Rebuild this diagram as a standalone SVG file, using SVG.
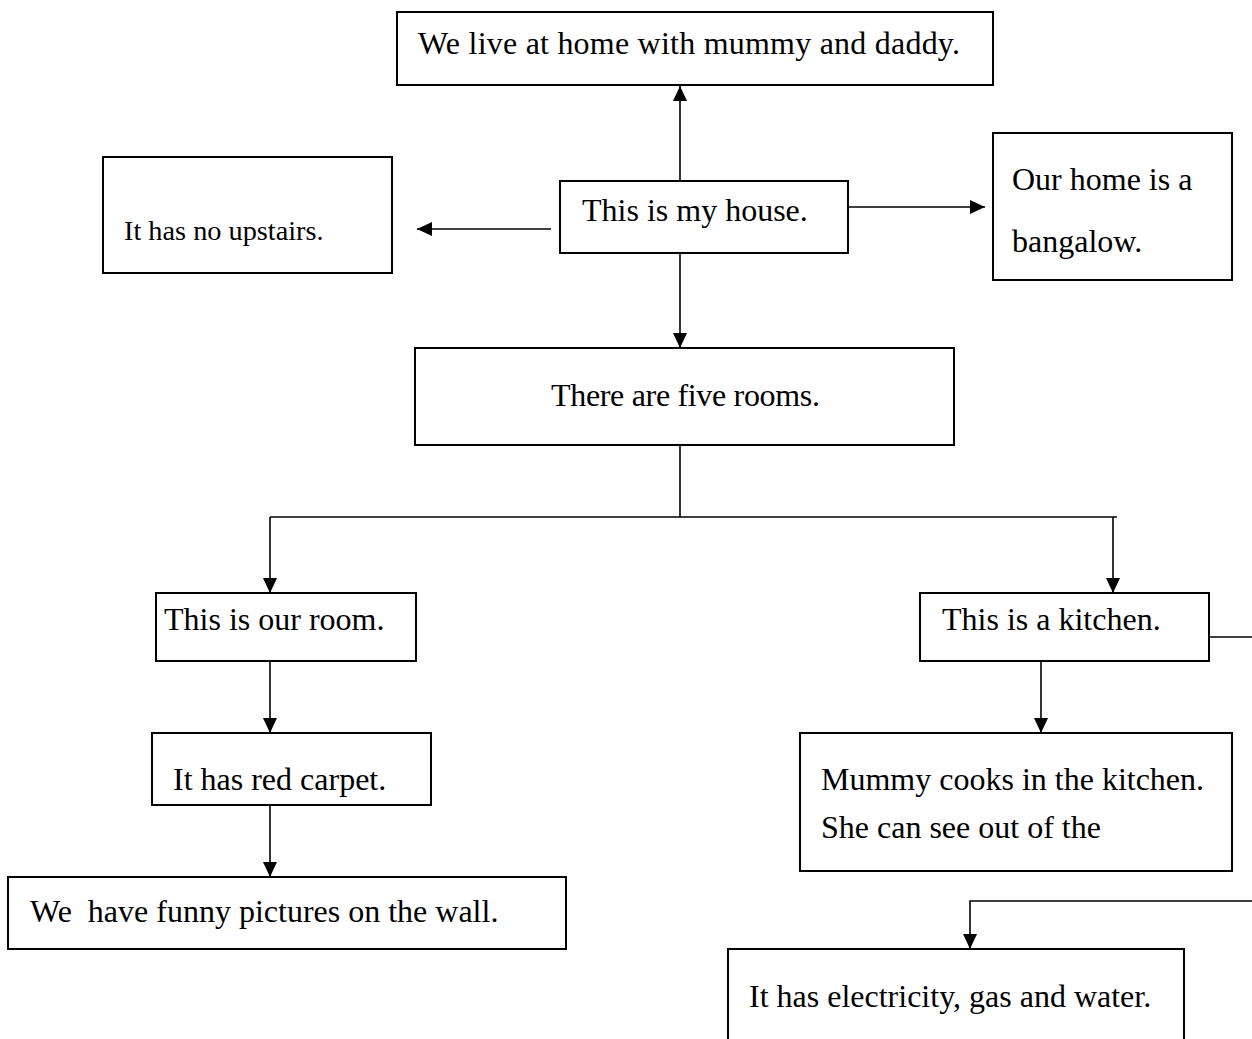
<svg xmlns="http://www.w3.org/2000/svg" width="1252" height="1039" viewBox="0 0 1252 1039">
<style>
.box{fill:#fff;stroke:#000;stroke-width:2}
.t{font-family:"Liberation Serif","Times New Roman",serif;font-size:32px;fill:#000}
.s{font-size:28.3px}
.c{fill:none;stroke:#000;stroke-width:1.6}
</style>
<defs>
<marker id="ah" markerUnits="userSpaceOnUse" markerWidth="16" markerHeight="14" refX="15" refY="7" orient="auto">
<path d="M0,0 L15,7 L0,14 Z" fill="#000"/>
</marker>
</defs>
<rect width="1252" height="1039" fill="#fff"/>
<g id="connectors">
<line class="c" x1="680" y1="181" x2="680" y2="86" marker-end="url(#ah)"/>
<line class="c" x1="551" y1="229" x2="417" y2="229" marker-end="url(#ah)"/>
<line class="c" x1="848" y1="207" x2="985" y2="207" marker-end="url(#ah)"/>
<line class="c" x1="680" y1="253" x2="680" y2="348" marker-end="url(#ah)"/>
<polyline class="c" points="680,445 680,517"/>
<polyline class="c" points="270,517 1117,517"/>
<line class="c" x1="270" y1="517" x2="270" y2="593" marker-end="url(#ah)"/>
<line class="c" x1="1113" y1="517" x2="1113" y2="593" marker-end="url(#ah)"/>
<line class="c" x1="270" y1="661" x2="270" y2="733" marker-end="url(#ah)"/>
<line class="c" x1="270" y1="805" x2="270" y2="877" marker-end="url(#ah)"/>
<line class="c" x1="1041" y1="661" x2="1041" y2="733" marker-end="url(#ah)"/>
<polyline class="c" points="1209,637 1252,637"/>
<polyline class="c" points="1252,901 970,901 970,949" marker-end="url(#ah)"/>
</g>
<g id="n-live">
<rect class="box" x="397" y="12" width="596" height="73"/>
<text class="t" x="418" y="54" textLength="542">We live at home with mummy and daddy.</text>
</g>
<g id="n-upstairs">
<rect class="box" x="103" y="157" width="289" height="116"/>
<text class="t s" x="124" y="240">It has no upstairs.</text>
</g>
<g id="n-house">
<rect class="box" x="560" y="181" width="288" height="72"/>
<text class="t" x="582" y="221">This is my house.</text>
</g>
<g id="n-bangalow">
<rect class="box" x="993" y="133" width="239" height="147"/>
<text class="t" x="1012" y="190">Our home is a</text>
<text class="t" x="1012" y="252">bangalow.</text>
</g>
<g id="n-rooms">
<rect class="box" x="415" y="348" width="539" height="97"/>
<text class="t" x="551" y="406" textLength="269">There are five rooms.</text>
</g>
<g id="n-ourroom">
<rect class="box" x="156" y="593" width="260" height="68"/>
<text class="t" x="164" y="630">This is our room.</text>
</g>
<g id="n-kitchen">
<rect class="box" x="920" y="593" width="289" height="68"/>
<text class="t" x="942" y="630">This is a kitchen.</text>
</g>
<g id="n-carpet">
<rect class="box" x="152" y="733" width="279" height="72"/>
<text class="t" x="173" y="790">It has red carpet.</text>
</g>
<g id="n-mummy">
<rect class="box" x="800" y="733" width="432" height="138"/>
<text class="t" x="821" y="790">Mummy cooks in the kitchen.</text>
<text class="t" x="821" y="838">She can see out of the</text>
</g>
<g id="n-pictures">
<rect class="box" x="8" y="877" width="558" height="72"/>
<text class="t" x="30" y="922" xml:space="preserve">We  have funny pictures on the wall.</text>
</g>
<g id="n-electricity">
<rect class="box" x="728" y="949" width="456" height="100"/>
<text class="t" x="749" y="1007">It has electricity, gas and water.</text>
</g>
</svg>
